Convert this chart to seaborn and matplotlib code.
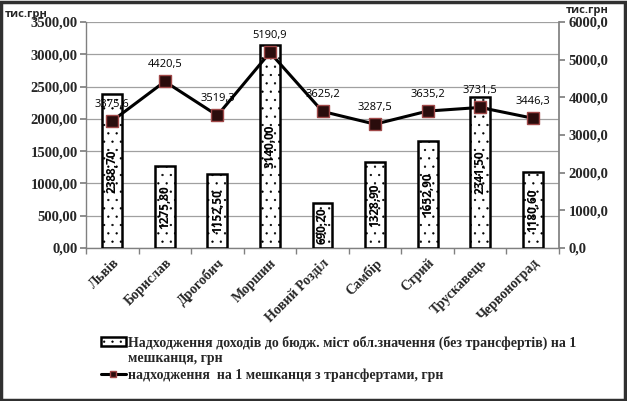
import matplotlib
matplotlib.use("Agg")
import matplotlib.pyplot as plt
import seaborn as sns
import numpy as np
import pandas as pd
from matplotlib.patches import Rectangle
from matplotlib.lines import Line2D
from matplotlib.legend_handler import HandlerPatch

cities = ["Львів", "Борислав", "Дрогобич", "Моршин", "Новий Розділ",
          "Самбір", "Стрий", "Трускавець", "Червоноград"]
own_income = [2388.70, 1275.80, 1152.50, 3140.00, 690.20,
              1328.90, 1652.90, 2341.50, 1180.60]
with_transfers = [3375.6, 4420.5, 3519.3, 5190.9, 3625.2,
                  3287.5, 3635.2, 3731.5, 3446.3]
left_ticks = [0, 500, 1000, 1500, 2000, 2500, 3000, 3500]
right_ticks = [0, 1000, 2000, 3000, 4000, 5000, 6000]
bar_label = "Надходження доходів до бюдж. міст обл.значення (без трансфертів) на 1\nмешканця, грн"
line_label = "надходження  на 1 мешканця з трансфертами, грн"
unit = "тис.грн"

sns.set_theme(style="white")
plt.rcParams['hatch.linewidth'] = 0.4
plt.rcParams['hatch.color'] = "#505050"
serif = ["Liberation Serif", "DejaVu Serif"]
sans = ["Open Sans", "DejaVu Sans"]

df = pd.DataFrame({"city": cities, "own": own_income, "tr": with_transfers})

fig = plt.figure(figsize=(6.27, 4.01), dpi=100)
ax = fig.add_axes([86/627, 1-248/401, (559-86)/627, (248-22)/401])

sns.barplot(data=df, x="city", y="own", ax=ax, color="white",
            edgecolor="black", linewidth=1.8, width=0.38, zorder=3)
for p in ax.patches:
    p.set_hatch("..")
    p.set_facecolor("white")

ax.set_ylim(0, 3500)
ax.set_yticks(left_ticks)
ax.set_yticklabels([f"{v:.2f}".replace(".", ",") for v in left_ticks],
                   fontfamily=serif, fontweight="bold", fontsize=10.5)
ax.set_xlim(-0.5, len(cities) - 0.5)
ax.yaxis.grid(True, color="#a0a0a0", linewidth=0.9, zorder=0)
ax.set_axisbelow(True)
ax.set_xlabel("")
ax.set_ylabel("")
ax.set_xticks(range(len(cities)))
ax.set_xticklabels(cities, rotation=45, ha="right", rotation_mode="anchor",
                   fontfamily=serif, fontweight="bold", fontsize=10)
ax.set_xticks(np.arange(-0.5, len(cities), 1), minor=True)
ax.tick_params(axis="x", which="major", length=0, pad=6)
ax.tick_params(axis="x", which="minor", length=4, color="#808080", direction="out", bottom=True)
ax.tick_params(axis="y", length=4, color="#808080", direction="out", left=True, pad=2)
for s in ["top", "right"]:
    ax.spines[s].set_visible(False)
for s in ["left", "bottom"]:
    ax.spines[s].set_color("#808080")
    ax.spines[s].set_linewidth(1)

for i, v in enumerate(own_income):
    ax.text(i, v / 2, f"{v:.2f}".replace(".", ","), rotation=90, ha="center", va="center",
            fontfamily=sans, fontsize=8.5, fontweight="bold", color="black", zorder=5)

ax2 = ax.twinx()
sns.lineplot(x=np.arange(len(cities)), y=with_transfers, ax=ax2, color="black",
             linewidth=2.2, marker="s", markersize=8, markerfacecolor="#2a0c0c",
             markeredgecolor="#a04848", markeredgewidth=1, sort=False, zorder=4)
ax2.set_ylim(0, 6000)
ax2.set_yticks(right_ticks)
ax2.set_yticklabels([f"{v:.1f}".replace(".", ",") for v in right_ticks],
                    fontfamily=serif, fontweight="bold", fontsize=10.5)
ax2.tick_params(axis="y", length=4, color="#808080", direction="out", right=True, pad=3)
for s in ["top", "left", "bottom"]:
    ax2.spines[s].set_visible(False)
ax2.spines["right"].set_color("#808080")
ax2.set_xlim(-0.5, len(cities) - 0.5)
for i, v in enumerate(with_transfers):
    ax2.annotate(f"{v:.1f}".replace(".", ","), (i, v), xytext=(0, 8),
                 textcoords="offset points", ha="center", va="bottom",
                 fontfamily=sans, fontsize=8, color="black")

fig.text(5/627, 1-14/401, unit, fontfamily=sans, fontweight="bold", fontsize=8, va="center")
fig.text(566/627, 1-11/401, unit, fontfamily=sans, fontweight="bold", fontsize=8, va="center")


def shifted_rect(legend, orig_handle, xdescent, ydescent, width, height, fontsize):
    return Rectangle((-xdescent, -ydescent + 0.6 * fontsize), width, height)


handles = [Rectangle((0, 0), 1, 1, facecolor="white", edgecolor="black", hatch="..", linewidth=1.8),
           Line2D([], [], color="black", linewidth=2.2, marker="s", markersize=5,
                  markerfacecolor="#2a0c0c", markeredgecolor="#a04848")]
leg = fig.legend(handles, [bar_label, line_label], loc="upper left",
                 bbox_to_anchor=(88/627, 1-323/401), frameon=False,
                 prop={"family": serif, "weight": "bold", "size": 10},
                 handlelength=1.8, handleheight=0.6, handletextpad=0.15, labelspacing=0.25,
                 handler_map={Rectangle: HandlerPatch(patch_func=shifted_rect)})

fig.patches.append(Rectangle((0.002, 0.003), 0.995, 0.993, transform=fig.transFigure,
                             fill=False, edgecolor="#303030", linewidth=2.5))

fig.savefig("out.png", dpi=100)
